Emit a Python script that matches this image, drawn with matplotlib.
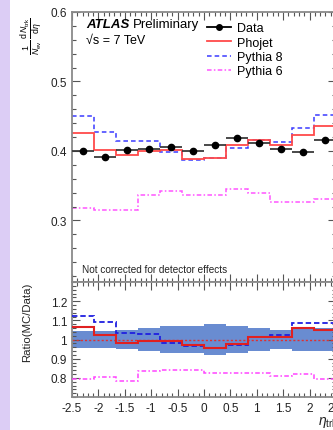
import numpy as np
import matplotlib
matplotlib.use("Agg")
import matplotlib.pyplot as plt
from matplotlib.ticker import MultipleLocator, FixedLocator, FuncFormatter
from matplotlib.lines import Line2D
from matplotlib.patches import Rectangle

plt.rcParams['font.family'] = ['Liberation Sans', 'DejaVu Sans']
plt.rcParams['mathtext.fontset'] = 'custom'
plt.rcParams['mathtext.rm'] = 'Liberation Sans'
plt.rcParams['mathtext.it'] = 'Liberation Sans:italic'
plt.rcParams['mathtext.bf'] = 'Liberation Sans:bold'

# pseudorapidity binning (12 bins over |eta| < 2.5)
eta_edges = np.linspace(-2.5, 2.5, 13)

# 1/N_ev dN_trk/deta per bin
data_vals = [0.400, 0.392, 0.402, 0.403, 0.406, 0.400, 0.409, 0.418, 0.411, 0.403, 0.399, 0.416]
data_err = [0.003] * 12
phojet = [0.4255, 0.402, 0.3947, 0.400, 0.402, 0.389, 0.390, 0.4086, 0.416, 0.4086, 0.423, 0.436]
pythia8 = [0.450, 0.428, 0.415, 0.415, 0.399, 0.387, 0.390, 0.405, 0.416, 0.4125, 0.433, 0.452]
pythia6 = [0.3175, 0.3156, 0.3156, 0.3367, 0.342, 0.3367, 0.3367, 0.3453, 0.3396, 0.3262, 0.3262, 0.3305]
# relative systematic uncertainty on the data (ratio band half-width)
syst_band = [0.045, 0.045, 0.05, 0.06, 0.07, 0.07, 0.08, 0.07, 0.06, 0.05, 0.06, 0.06]

edges = np.asarray(eta_edges)
centers = 0.5 * (edges[:-1] + edges[1:])
halfw = 0.5 * np.diff(edges)
d = np.asarray(data_vals)

W, H = 333, 431
fig = plt.figure(figsize=(W / 100, H / 100), dpi=100)
fig.patch.set_facecolor('white')
fig.add_artist(Rectangle((0, 0), 10 / W, 1, transform=fig.transFigure,
                         facecolor='#dccdf5', edgecolor='none', zorder=0))

left = 72 / W
width = 264 / W
ax = fig.add_axes([left, 1 - 283 / H, width, (283 - 13) / H])
axr = fig.add_axes([left, 1 - 398 / H, width, (398 - 283) / H])

frame_col = '#8a8a8a'
text_col = '#222222'
for a in (ax, axr):
    for s in a.spines.values():
        s.set_color(frame_col)
        s.set_linewidth(1.3)
    a.tick_params(which='both', direction='in', top=True, right=True,
                  colors='#555555', labelcolor=text_col, labelsize=8.5, width=0.8)
    a.tick_params(which='major', length=6)
    a.tick_params(which='minor', length=3)
    a.xaxis.set_major_locator(MultipleLocator(0.5))
    a.xaxis.set_minor_locator(MultipleLocator(0.1))
    a.set_xlim(-2.5, 2.5)

# ---- upper panel ----
ax.set_ylim(0.2115, 0.6)
ax.yaxis.set_major_locator(MultipleLocator(0.1))
ax.yaxis.set_minor_locator(MultipleLocator(0.02))
ax.tick_params(axis='x', labelbottom=False)

ax.stairs(pythia6, edges, baseline=None, color='#ff55ff', lw=1.1, linestyle=(0, (3, 1.5, 1, 1.5)))
ax.stairs(pythia8, edges, baseline=None, color='#3a3aff', lw=1.1, linestyle=(0, (3, 2)))
ax.stairs(phojet, edges, baseline=None, color='#ff4a4a', lw=1.3)
ax.errorbar(centers, d, xerr=halfw, yerr=data_err, fmt='o', color='black',
            ecolor='#3a3a3a', ms=4.5, elinewidth=1.3, capsize=0, zorder=5)

t_atlas = fig.text(86 / W, 1 - 25 / H, 'ATLAS', fontsize=9.5, fontweight='bold',
                   fontstyle='italic', va='center', ha='left')
ax.annotate('Preliminary', xy=(1, 0.5), xycoords=t_atlas, xytext=(2.5, 0),
            textcoords='offset points', fontsize=9.5, va='center', ha='left')
fig.text(86 / W, 1 - 41 / H, '√s = 7 TeV', fontsize=9, va='center', ha='left')
fig.text(82 / W, 1 - 270 / H, 'Not corrected for detector effects',
         fontsize=7.2, va='center', ha='left', color=text_col)

handles = [
    Line2D([], [], color='black', marker='o', ms=4, lw=1.3),
    Line2D([], [], color='#ff4a4a', lw=1.3),
    Line2D([], [], color='#3a3aff', lw=1.1, linestyle=(0, (3, 2))),
    Line2D([], [], color='#ff55ff', lw=1.1, linestyle=(0, (3, 1.5, 1, 1.5))),
]
ax.legend(handles, ['Data', 'Phojet', 'Pythia 8', 'Pythia 6'],
          loc='upper left', bbox_to_anchor=(207 / W, 1 - 23 / H),
          bbox_transform=fig.transFigure, frameon=False, fontsize=9,
          handlelength=1.9, handletextpad=0.5, labelspacing=0.2,
          borderpad=0, borderaxespad=0)

fig.text(32 / W, 1 - 36 / H,
         r'$\frac{1}{N_{\rm ev}}\,\frac{{\rm d}\,N_{\rm trk}}{{\rm d}\eta}$',
         rotation=90, fontsize=9, ha='center', va='center')

# ---- ratio panel ----
axr.set_ylim(0.7, 1.3)
axr.yaxis.set_major_locator(FixedLocator([0.8, 0.9, 1.0, 1.1, 1.2]))
axr.yaxis.set_minor_locator(MultipleLocator(0.02))
axr.yaxis.set_major_formatter(FuncFormatter(lambda v, p: '%g' % round(v, 2)))
axr.xaxis.set_major_formatter(FuncFormatter(lambda v, p: '%g' % round(v, 2)))

band = np.asarray(syst_band)
axr.stairs(1 + band, edges, baseline=1 - band, fill=True, color='#6186cf',
           alpha=0.95, zorder=1)
axr.axhline(1.0, color='#e03030', lw=1.0, linestyle=(0, (1.5, 1.5)), zorder=2)
axr.stairs(np.asarray(pythia6) / d, edges, baseline=None, color='#ff44ff', lw=1.1,
           linestyle=(0, (3, 1.5, 1, 1.5)), zorder=3)
axr.stairs(np.asarray(pythia8) / d, edges, baseline=None, color='#1f1fe0', lw=1.3,
           linestyle=(0, (3, 1.6)), zorder=3)
axr.stairs(np.asarray(phojet) / d, edges, baseline=None, color='#e02020', lw=1.5, zorder=4)

fig.text(27 / W, 1 - 322 / H, 'Ratio(MC/Data)', rotation=90, fontsize=8.2,
         ha='center', va='center', color=text_col)
fig.text(318 / W, 1 - 423 / H, r'$\eta_{\rm trk}$', fontsize=10,
         ha='left', va='center', color=text_col)

fig.savefig('out.png', dpi=100)
